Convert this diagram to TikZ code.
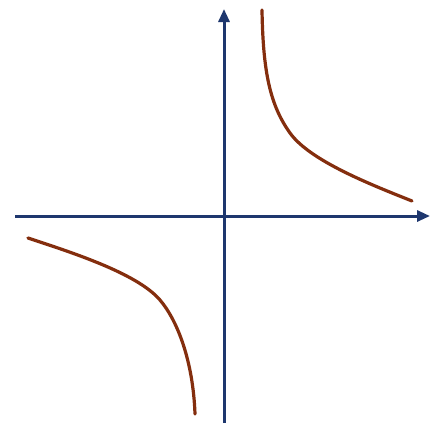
\documentclass[tikz,border=0pt]{standalone}
\usetikzlibrary{arrows.meta}
\definecolor{axisblue}{HTML}{1E376E}
\definecolor{curvebrown}{HTML}{842E0E}
\tikzset{
  axisline/.style={draw=axisblue, line width=3pt, -{Triangle[length=13pt,width=11pt]}},
  branch/.style={draw=curvebrown, line width=3.2pt, line cap=round}
}
\begin{document}
\begin{tikzpicture}[x=1pt,y=-1pt]
\useasboundingbox (0,0) rectangle (435,423);
\fill[white] (0,0) rectangle (435,423);
\coordinate (xl) at (15,216);
\coordinate (xr) at (430,216);
\coordinate (yb) at (224,423);
\coordinate (yt) at (224,9);
\draw[axisline] (xl) -- (xr);
\draw[axisline] (yb) -- (yt);
\draw[branch] (262,10) .. controls (263,72) and (270,105) .. (290,133)
  .. controls (310,161) and (372,185) .. (412,201);
\draw[branch] (28,238) .. controls (70,252) and (137,273) .. (160,300)
  .. controls (177,320) and (193,360) .. (195,414);
\end{tikzpicture}
\end{document}
